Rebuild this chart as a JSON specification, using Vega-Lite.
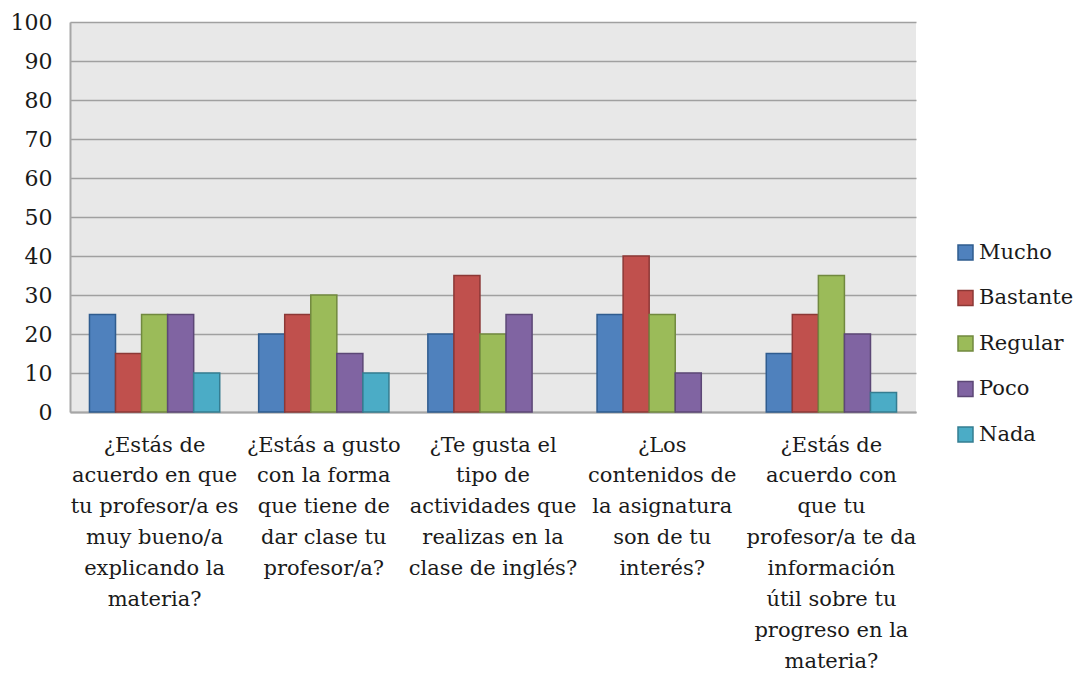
{
  "$schema": "https://vega.github.io/schema/vega-lite/v6.json",
  "width": 846,
  "height": 390,
  "autosize": {"type": "none"},
  "padding": {"left": 70, "top": 22, "right": 161, "bottom": 261},
  "background": "white",
  "config": {
    "font": "DejaVu Serif",
    "view": {"fill": "#E8E8E8", "stroke": null}
  },
  "data": {
    "values": [
      {"q": "¿Estás de|acuerdo en que|tu profesor/a es|muy bueno/a|explicando la|materia?", "s": "Mucho", "v": 25},
      {"q": "¿Estás de|acuerdo en que|tu profesor/a es|muy bueno/a|explicando la|materia?", "s": "Bastante", "v": 15},
      {"q": "¿Estás de|acuerdo en que|tu profesor/a es|muy bueno/a|explicando la|materia?", "s": "Regular", "v": 25},
      {"q": "¿Estás de|acuerdo en que|tu profesor/a es|muy bueno/a|explicando la|materia?", "s": "Poco", "v": 25},
      {"q": "¿Estás de|acuerdo en que|tu profesor/a es|muy bueno/a|explicando la|materia?", "s": "Nada", "v": 10},
      {"q": "¿Estás a gusto|con la forma|que tiene de|dar clase tu|profesor/a?", "s": "Mucho", "v": 20},
      {"q": "¿Estás a gusto|con la forma|que tiene de|dar clase tu|profesor/a?", "s": "Bastante", "v": 25},
      {"q": "¿Estás a gusto|con la forma|que tiene de|dar clase tu|profesor/a?", "s": "Regular", "v": 30},
      {"q": "¿Estás a gusto|con la forma|que tiene de|dar clase tu|profesor/a?", "s": "Poco", "v": 15},
      {"q": "¿Estás a gusto|con la forma|que tiene de|dar clase tu|profesor/a?", "s": "Nada", "v": 10},
      {"q": "¿Te gusta el|tipo de|actividades que|realizas en la|clase de inglés?", "s": "Mucho", "v": 20},
      {"q": "¿Te gusta el|tipo de|actividades que|realizas en la|clase de inglés?", "s": "Bastante", "v": 35},
      {"q": "¿Te gusta el|tipo de|actividades que|realizas en la|clase de inglés?", "s": "Regular", "v": 20},
      {"q": "¿Te gusta el|tipo de|actividades que|realizas en la|clase de inglés?", "s": "Poco", "v": 25},
      {"q": "¿Te gusta el|tipo de|actividades que|realizas en la|clase de inglés?", "s": "Nada", "v": 0},
      {"q": "¿Los|contenidos de|la asignatura|son de tu|interés?", "s": "Mucho", "v": 25},
      {"q": "¿Los|contenidos de|la asignatura|son de tu|interés?", "s": "Bastante", "v": 40},
      {"q": "¿Los|contenidos de|la asignatura|son de tu|interés?", "s": "Regular", "v": 25},
      {"q": "¿Los|contenidos de|la asignatura|son de tu|interés?", "s": "Poco", "v": 10},
      {"q": "¿Los|contenidos de|la asignatura|son de tu|interés?", "s": "Nada", "v": 0},
      {"q": "¿Estás de|acuerdo con|que tu|profesor/a te da|información|útil sobre tu|progreso en la|materia?", "s": "Mucho", "v": 15},
      {"q": "¿Estás de|acuerdo con|que tu|profesor/a te da|información|útil sobre tu|progreso en la|materia?", "s": "Bastante", "v": 25},
      {"q": "¿Estás de|acuerdo con|que tu|profesor/a te da|información|útil sobre tu|progreso en la|materia?", "s": "Regular", "v": 35},
      {"q": "¿Estás de|acuerdo con|que tu|profesor/a te da|información|útil sobre tu|progreso en la|materia?", "s": "Poco", "v": 20},
      {"q": "¿Estás de|acuerdo con|que tu|profesor/a te da|información|útil sobre tu|progreso en la|materia?", "s": "Nada", "v": 5}
    ]
  },
  "mark": {"type": "bar", "strokeWidth": 1.5},
  "encoding": {
    "x": {
      "field": "q",
      "type": "nominal",
      "sort": null,
      "scale": {"paddingInner": 0.23, "paddingOuter": 0.115},
      "axis": {
        "title": null,
        "labelExpr": "split(datum.value, '|')",
        "labelAngle": 0,
        "labelFont": "DejaVu Serif",
        "labelFontSize": 21,
        "labelColor": "#1a1a1a",
        "labelLineHeight": 30.9,
        "labelBaseline": "top",
        "labelPadding": 22,
        "labelLimit": 300,
        "labelOverlap": false,
        "ticks": false,
        "domainColor": "#A6A6A6",
        "domainWidth": 2
      }
    },
    "xOffset": {
      "field": "s",
      "type": "nominal",
      "sort": ["Mucho", "Bastante", "Regular", "Poco", "Nada"],
      "scale": {"paddingInner": 0, "paddingOuter": 0}
    },
    "y": {
      "field": "v",
      "type": "quantitative",
      "scale": {"domain": [0, 100]},
      "axis": {
        "title": null,
        "values": [0, 10, 20, 30, 40, 50, 60, 70, 80, 90, 100],
        "labelFont": "DejaVu Serif",
        "labelFontSize": 22,
        "labelColor": "#1a1a1a",
        "labelPadding": 18,
        "labelOverlap": false,
        "ticks": false,
        "domainColor": "#A6A6A6",
        "domainWidth": 2,
        "gridColor": "#A0A0A0",
        "gridWidth": 1.5
      }
    },
    "fill": {
      "field": "s",
      "type": "nominal",
      "sort": ["Mucho", "Bastante", "Regular", "Poco", "Nada"],
      "scale": {"range": ["#4F81BD", "#C0504D", "#9BBB59", "#8064A2", "#4BACC6"]},
      "legend": {
        "title": null,
        "orient": "none",
        "legendX": 885,
        "legendY": 220,
        "symbolType": "square",
        "symbolSize": 225,
        "symbolStrokeWidth": 1.5,
        "labelFont": "DejaVu Serif",
        "labelFontSize": 21,
        "labelColor": "#1a1a1a",
        "labelOffset": 3,
        "rowPadding": 23.5,
        "encode": {
          "symbols": {"update": {"stroke": {"scale": "stroke", "field": "value"}}}
        }
      }
    },
    "stroke": {
      "field": "s",
      "type": "nominal",
      "sort": ["Mucho", "Bastante", "Regular", "Poco", "Nada"],
      "scale": {"range": ["#2F5C8F", "#8C3836", "#71893F", "#5C4776", "#357D91"]},
      "legend": null
    },
    "strokeOpacity": {
      "condition": {"test": "datum.v === 0", "value": 0},
      "value": 1
    }
  }
}
